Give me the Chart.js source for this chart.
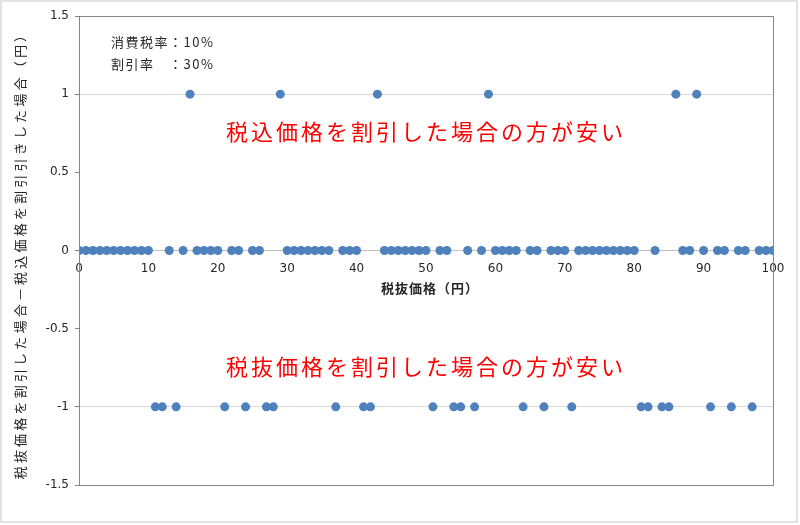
<!DOCTYPE html>
<html>
<head>
<meta charset="utf-8">
<script src="https://cdn.jsdelivr.net/npm/chart.js@4.4.0/dist/chart.umd.min.js"></script>
<style>
  html, body { margin: 0; padding: 0; background: #fff; }
  #wrap { width: 800px; height: 525px; }
</style>
</head>
<body>
<div id="wrap"><canvas id="myChart" width="800" height="525"></canvas></div>
<script>
// 税抜価格 (円)
var prices = [
    0, 1, 2, 3, 4, 5, 6, 7, 8, 9,
    10, 11, 12, 13, 14, 15, 16, 17, 18, 19,
    20, 21, 22, 23, 24, 25, 26, 27, 28, 29,
    30, 31, 32, 33, 34, 35, 36, 37, 38, 39,
    40, 41, 42, 43, 44, 45, 46, 47, 48, 49,
    50, 51, 52, 53, 54, 55, 56, 57, 58, 59,
    60, 61, 62, 63, 64, 65, 66, 67, 68, 69,
    70, 71, 72, 73, 74, 75, 76, 77, 78, 79,
    80, 81, 82, 83, 84, 85, 86, 87, 88, 89,
    90, 91, 92, 93, 94, 95, 96, 97, 98, 99, 100
];
// 税抜価格を割引した場合 - 税込価格を割引きした場合 (円)
var diffs = [
    0, 0, 0, 0, 0, 0, 0, 0, 0, 0,
    0, -1, -1, 0, -1, 0, 1, 0, 0, 0,
    0, -1, 0, 0, -1, 0, 0, -1, -1, 1,
    0, 0, 0, 0, 0, 0, 0, -1, 0, 0,
    0, -1, -1, 1, 0, 0, 0, 0, 0, 0,
    0, -1, 0, 0, -1, -1, 0, -1, 0, 1,
    0, 0, 0, 0, -1, 0, 0, -1, 0, 0,
    0, -1, 0, 0, 0, 0, 0, 0, 0, 0,
    0, -1, -1, 0, -1, -1, 1, 0, 0, 1,
    0, -1, 0, 0, -1, 0, 0, -1, 0, 0, 0
];
var yTickLabels = ["-1.5", "-1", "-0.5", "0", "0.5", "1", "1.5"];
var xTickLabels = ["0", "10", "20", "30", "40", "50", "60", "70", "80", "90", "100"];
var xTitle = "税抜価格（円）";
var yTitle = "税抜価格を割引した場合－税込価格を割引引きした場合（円）";
var notes = ["消費税率：10%", "割引率　：30%"];
var upperNote = "税込価格を割引した場合の方が安い";
var lowerNote = "税抜価格を割引した場合の方が安い";

var points = prices.map(function (p, i) { return { x: p, y: diffs[i] }; });

var fontJP = '"Noto Sans CJK JP", "Noto Sans", sans-serif';
var fontNum = '"DejaVu Sans", sans-serif';

/**
 * frame, grey borders, axis titles and text labels drawn over the plot
 */
var decorations = {
    id: 'decorations',
    beforeDraw: function (chart) {
        var ctx = chart.ctx;
        ctx.save();
        ctx.fillStyle = '#fff';
        ctx.fillRect(0, 0, chart.width, chart.height);
        ctx.restore();
    },
    afterDraw: function (chart) {
        var ctx = chart.ctx;
        var a = chart.chartArea;
        var xs = chart.scales.x, ys = chart.scales.y;
        ctx.save();
        // outer chart border
        ctx.strokeStyle = '#d9d9d9';
        ctx.lineWidth = 1.5;
        ctx.strokeRect(1, 1, chart.width - 4, chart.height - 4);
        // plot area frame
        ctx.strokeStyle = '#868686';
        ctx.lineWidth = 1;
        ctx.strokeRect(a.left + 0.5, a.top + 0.5, a.right - a.left, a.bottom - a.top);

        ctx.fillStyle = '#262626';
        ctx.textBaseline = 'middle';

        // x axis title
        ctx.font = 'bold 13px ' + fontJP;
        ctx.textAlign = 'center';
        ctx.letterSpacing = '1px';
        ctx.fillText(xTitle, (a.left + a.right) / 2 + 4, ys.getPixelForValue(0) + 38);

        // y axis title
        ctx.save();
        ctx.translate(20, (a.top + a.bottom) / 2 + 2);
        ctx.rotate(-Math.PI / 2);
        ctx.font = '13px ' + fontJP;
        ctx.letterSpacing = '3.2px';
        ctx.fillText(yTitle, 0, 0);
        ctx.restore();

        // rate notes
        ctx.font = '13px ' + fontJP;
        ctx.textAlign = 'left';
        ctx.letterSpacing = '1.5px';
        ctx.fillText(notes[0], a.left + 32, a.top + 26);
        ctx.fillText(notes[1], a.left + 32, a.top + 48);

        // red notes
        ctx.fillStyle = '#ff0000';
        ctx.font = '22px ' + fontJP;
        ctx.textAlign = 'center';
        ctx.letterSpacing = '3px';
        ctx.fillText(upperNote, xs.getPixelForValue(50), ys.getPixelForValue(0.76));
        ctx.fillText(lowerNote, xs.getPixelForValue(50), ys.getPixelForValue(-0.74));
        ctx.restore();
    }
};

var ctx = document.getElementById('myChart').getContext('2d');
var myChart = new Chart(ctx, {
    type: 'scatter',
    data: {
        datasets: [{
            data: points,
            backgroundColor: '#4f81bd',
            borderColor: '#4f81bd',
            pointRadius: 4.5,
            pointHoverRadius: 4.5,
            borderWidth: 0,
            showLine: false
        }]
    },
    options: {
        responsive: false,
        animation: false,
        devicePixelRatio: 1,
        layout: { padding: { left: 0, top: 16, right: 27, bottom: 40 } },
        plugins: {
            legend: { display: false },
            tooltip: { enabled: false }
        },
        scales: {
            x: {
                type: 'linear',
                position: { y: 0 },
                min: 0,
                max: 100,
                grid: { display: false },
                border: { display: true, color: '#bfbfbf', width: 1 },
                ticks: {
                    stepSize: 10,
                    color: '#262626',
                    font: { family: fontNum, size: 12 },
                    padding: 3,
                    callback: function (v) {
                        var i = xTickLabels.indexOf(String(v));
                        return i >= 0 ? xTickLabels[i] : '';
                    }
                },
                title: { display: false }
            },
            y: {
                type: 'linear',
                min: -1.5,
                max: 1.5,
                afterFit: function (scale) { scale.width = 79; },
                grid: {
                    drawTicks: true,
                    tickLength: 4,
                    tickColor: '#868686',
                    color: function (c) {
                        var v = c.tick ? c.tick.value : 0;
                        return Number.isInteger(v) && v !== 0 ? '#d9d9d9' : 'rgba(0,0,0,0)';
                    }
                },
                border: { display: true, color: '#868686' },
                ticks: {
                    stepSize: 0.5,
                    color: '#262626',
                    font: { family: fontNum, size: 12 },
                    padding: 6,
                    callback: function (v) {
                        var i = yTickLabels.indexOf(String(v));
                        return i >= 0 ? yTickLabels[i] : '';
                    }
                },
                title: { display: false }
            }
        }
    },
    plugins: [decorations]
});
</script>
</body>
</html>
